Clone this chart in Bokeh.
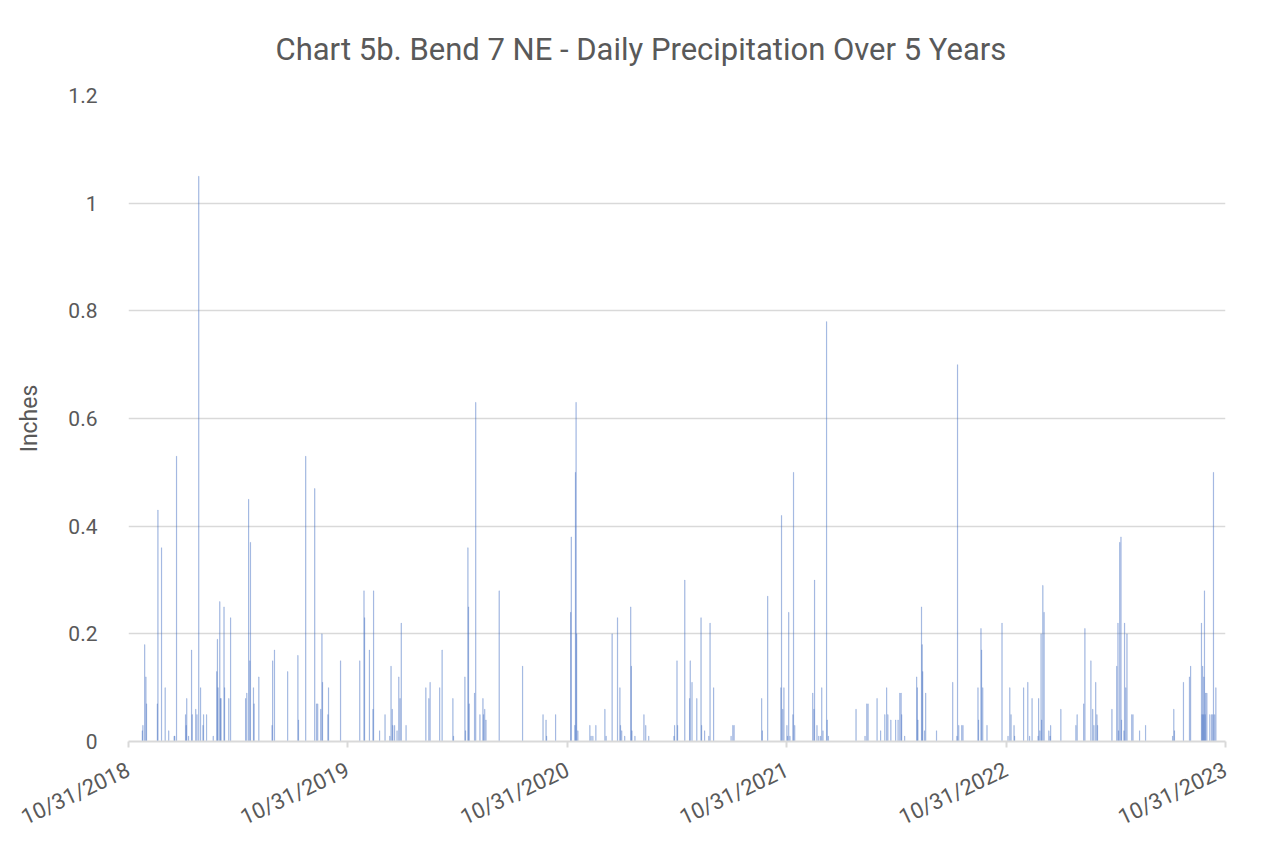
import pandas as pd
from bokeh.plotting import figure
from bokeh.models import Range1d, FixedTicker, DatetimeTickFormatter, NumeralTickFormatter
from bokeh.embed import file_html
from bokeh.resources import INLINE

# ---- data ----
start_date = "2018-10-31"
end_date = "2023-10-31"
tick_dates = ["2018-10-31", "2019-10-31", "2020-10-31", "2021-10-31", "2022-10-31", "2023-10-31"]
y_ticks = [0, 0.2, 0.4, 0.6, 0.8, 1.0, 1.2]

# days after 10/31/2018 with recorded precipitation
day_offset = [
    23, 24, 27, 29, 30, 48, 49, 55, 61, 67, 76, 77, 80, 95, 96, 97, 100, 105, 106, 112, 114, 117, 120, 124, 125,
    130, 141, 147, 148, 149, 152, 153, 154, 159, 160, 167, 170, 195, 197, 200, 202, 203, 208, 209, 217, 239, 240,
    243, 265, 282, 283, 295, 310, 313, 315, 320, 322, 323, 332, 333, 353, 385, 392, 393, 401, 407, 408, 418, 427,
    435, 437, 439, 440, 443, 447, 450, 452, 454,
    462, 495, 500, 502, 518, 522, 540, 541, 560, 561, 565, 566, 567, 576, 578, 585, 590, 591, 593, 595, 617, 656,
    690, 695, 696, 711, 736, 737, 743, 744, 745, 746, 748, 768, 770, 773, 778, 793, 795, 805, 814, 818, 819, 821,
    826, 836, 837, 838, 843, 858, 861, 866, 908, 909, 913, 914,
    926, 934, 935, 938, 946, 953, 954, 959, 966, 968, 974, 1003, 1006, 1008, 1054, 1055, 1064, 1086, 1087, 1089,
    1091, 1096, 1097, 1099, 1101, 1106, 1107, 1109, 1139, 1141, 1142, 1146, 1149, 1152, 1154, 1156, 1162, 1163,
    1165, 1211, 1226, 1229, 1231, 1246, 1252, 1259, 1262, 1264, 1269, 1277, 1281, 1284, 1286, 1287, 1292, 1312,
    1313, 1314, 1320, 1321, 1322, 1325, 1327, 1345, 1372,
    1379, 1380, 1382, 1387, 1389, 1414, 1415, 1419, 1420, 1422, 1429, 1454, 1464, 1467, 1469, 1474, 1475, 1490,
    1497, 1500, 1504, 1514, 1515, 1517, 1519, 1520, 1522, 1524, 1532, 1534, 1535, 1552, 1577, 1579, 1590, 1592,
    1602, 1605, 1607, 1610, 1612, 1613, 1637, 1645, 1647, 1648, 1650, 1652, 1653, 1657, 1658, 1660, 1662, 1670,
    1672, 1683, 1693, 1738, 1740, 1741, 1756, 1766, 1768, 1786, 1787, 1788, 1789, 1790, 1791, 1792, 1793, 1795,
    1800, 1803, 1805, 1806, 1808, 1810,
]
precip_in = [
    0.02, 0.03, 0.18, 0.12, 0.07, 0.07, 0.43, 0.36, 0.10, 0.02, 0.01, 0.01, 0.53, 0.05, 0.03, 0.08, 0.01, 0.17, 0.05, 0.06, 0.05, 1.05, 0.10, 0.03, 0.05,
    0.05, 0.01, 0.13, 0.19, 0.10, 0.26, 0.08, 0.08, 0.25, 0.10, 0.08, 0.23, 0.08, 0.09, 0.45, 0.15, 0.37, 0.10, 0.07, 0.12, 0.03, 0.15,
    0.17, 0.13, 0.16, 0.04, 0.53, 0.47, 0.07, 0.07, 0.06, 0.20, 0.11, 0.05, 0.10, 0.15, 0.15, 0.28, 0.23, 0.17, 0.06, 0.28, 0.02, 0.05,
    0.01, 0.14, 0.06, 0.03, 0.03, 0.02, 0.12, 0.08, 0.22,
    0.03, 0.10, 0.08, 0.11, 0.10, 0.17, 0.08, 0.01, 0.12, 0.02, 0.36, 0.25, 0.07, 0.09, 0.63, 0.05, 0.08, 0.05, 0.06, 0.04, 0.28, 0.14,
    0.05, 0.04, 0.01, 0.05, 0.24, 0.38, 0.03, 0.50, 0.63, 0.20, 0.02, 0.03, 0.01, 0.01, 0.03, 0.06, 0.01, 0.20, 0.23, 0.10, 0.03, 0.02,
    0.01, 0.25, 0.14, 0.02, 0.01, 0.05, 0.03, 0.01, 0.01, 0.03, 0.15, 0.03,
    0.30, 0.08, 0.15, 0.11, 0.08, 0.23, 0.03, 0.02, 0.01, 0.22, 0.10, 0.01, 0.03, 0.03, 0.08, 0.02, 0.27, 0.10, 0.42, 0.06,
    0.10, 0.03, 0.01, 0.24, 0.01, 0.05, 0.50, 0.03, 0.09, 0.06, 0.30, 0.03, 0.01, 0.01, 0.10, 0.02, 0.78, 0.04,
    0.01, 0.06, 0.01, 0.07, 0.07, 0.08, 0.02, 0.05, 0.10, 0.05, 0.04, 0.04, 0.04, 0.09, 0.09, 0.05, 0.01, 0.12,
    0.10, 0.04, 0.25, 0.18, 0.13, 0.02, 0.09, 0.02, 0.11,
    0.01, 0.70, 0.03, 0.03, 0.03, 0.10, 0.04, 0.21, 0.17, 0.10, 0.03, 0.22, 0.01, 0.10, 0.05, 0.03, 0.01, 0.10,
    0.11, 0.01, 0.08, 0.01, 0.08, 0.02, 0.20, 0.04, 0.29, 0.24, 0.02, 0.01, 0.03, 0.06, 0.03, 0.05, 0.07, 0.21,
    0.15, 0.06, 0.03, 0.11, 0.05, 0.03, 0.06, 0.14, 0.22, 0.02, 0.37, 0.38, 0.04, 0.02, 0.22, 0.10, 0.20, 0.05,
    0.05, 0.02, 0.03, 0.01, 0.06, 0.02, 0.11, 0.12, 0.14, 0.22, 0.05, 0.14, 0.05, 0.12, 0.28, 0.05, 0.09, 0.09,
    0.05, 0.05, 0.05, 0.50, 0.05, 0.10,
]

dates = pd.Timestamp(start_date) + pd.to_timedelta(day_offset, unit="D")

TEXT = "#595959"
GRID = "#d9d9d9"
FONT = "Roboto"

p = figure(
    width=1252, height=848,
    x_axis_type="datetime",
    x_range=Range1d(pd.Timestamp(start_date), pd.Timestamp(end_date)),
    y_range=Range1d(0, 1.2),
    output_backend="svg", toolbar_location=None,
    min_border_left=128, min_border_right=27, min_border_top=94, min_border_bottom=107,
    title="Chart 5b. Bend 7 NE - Daily Precipitation Over 5 Years",
)

day_ms = 86400000
p.vbar(x=dates, top=precip_in, width=0.5 * day_ms, bottom=0,
       fill_color="#4472C4", fill_alpha=0.22, line_color="#4472C4", line_alpha=0.3, line_width=1)

p.outline_line_color = None
p.background_fill_color = "white"
p.border_fill_color = "white"

# title
p.title.text_font = FONT
p.title.text_font_size = "31px"
p.title.text_font_style = "normal"
p.title.text_color = TEXT
p.title.align = "left"
p.title.offset = 147
p.title.standoff = 56

# grid
p.xgrid.grid_line_color = None
p.ygrid.grid_line_color = GRID
p.ygrid.grid_line_width = 1.5

# y axis
p.yaxis.ticker = FixedTicker(ticks=y_ticks)
p.yaxis.formatter = NumeralTickFormatter(format="0.[0]")
p.yaxis.axis_line_color = None
p.yaxis.major_tick_line_color = None
p.yaxis.minor_tick_line_color = None
p.yaxis.major_label_standoff = 25
p.yaxis.major_label_text_font = FONT
p.yaxis.major_label_text_font_size = "21px"
p.yaxis.major_label_text_color = TEXT
p.yaxis.axis_label = "Inches"
p.yaxis.axis_label_text_font = FONT
p.yaxis.axis_label_text_font_size = "23px"
p.yaxis.axis_label_text_font_style = "normal"
p.yaxis.axis_label_text_color = TEXT
p.yaxis.axis_label_standoff = 22

# x axis
tick_ms = [pd.Timestamp(d).value // 10**6 for d in tick_dates]
p.xaxis.ticker = FixedTicker(ticks=tick_ms)
fmt = "%m/%d/%Y"
p.xaxis.formatter = DatetimeTickFormatter(
    milliseconds=fmt, seconds=fmt, minsec=fmt, minutes=fmt, hourmin=fmt, hours=fmt,
    days=fmt, months=fmt, years=fmt)
p.xaxis.axis_line_color = GRID
p.xaxis.axis_line_width = 2
p.xaxis.major_tick_line_color = GRID
p.xaxis.major_tick_line_width = 2
p.xaxis.major_tick_in = 0
p.xaxis.major_tick_out = 6
p.xaxis.minor_tick_line_color = None
p.xaxis.major_label_orientation = 0.44
p.xaxis.major_label_standoff = 21
p.xaxis.major_label_text_font = FONT
p.xaxis.major_label_text_font_size = "22px"
p.xaxis.major_label_text_color = TEXT

open("out.html", "w").write(file_html(p, INLINE))
